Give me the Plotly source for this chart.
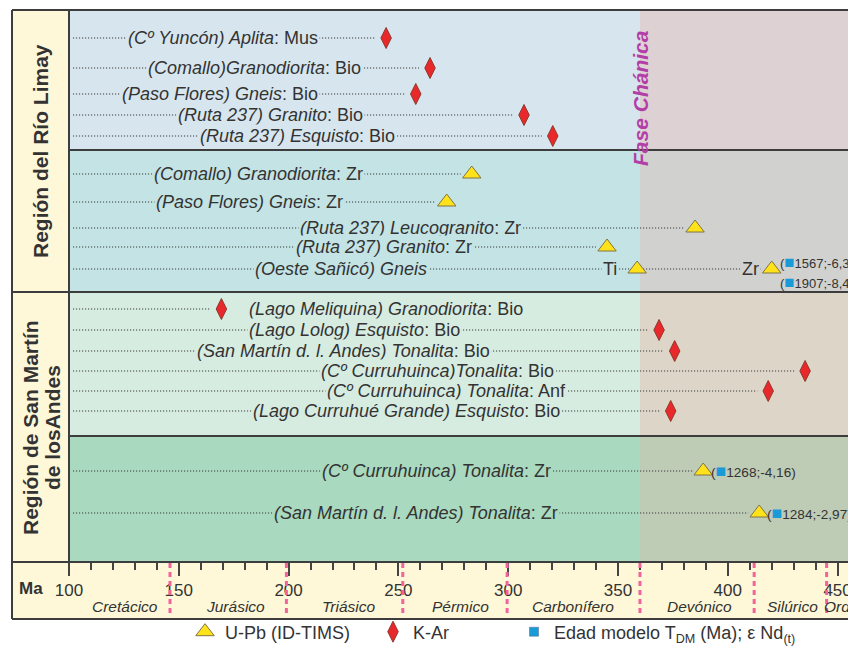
import plotly.graph_objects as go

# ---------------- data ----------------
SAMPLES = [
    "(Cº Yuncón) Aplita", "(Comallo)Granodiorita", "(Paso Flores) Gneis",
    "(Ruta 237) Granito", "(Ruta 237) Esquisto",
    "(Comallo) Granodiorita", "(Paso Flores) Gneis", "(Ruta 237) Leucogranito",
    "(Ruta 237) Granito", "(Oeste Sañicó) Gneis",
    "(Lago Meliquina) Granodiorita", "(Lago Lolog) Esquisto",
    "(San Martín d. l. Andes) Tonalita", "(Cº Curruhuinca)Tonalita",
    "(Cº Curruhuinca) Tonalita", "(Lago Curruhué Grande) Esquisto",
    "(Cº Curruhuinca) Tonalita", "(San Martín d. l. Andes) Tonalita",
]
SAMPLE_MINERAL = ["Mus", "Bio", "Bio", "Bio", "Bio",
                  "Zr", "Zr", "Zr", "Zr", "",
                  "Bio", "Bio", "Bio", "Bio", "Anf", "Bio",
                  "Zr", "Zr"]
GROUP_SIZES = [5, 5, 6, 2]          # rows per band (K-Ar / U-Pb of each region)
REGIONS = ["Región del Río Limay", "Región de San Martín", "de losAndes"]

POINT_ROW = [0, 1, 2, 3, 4, 5, 6, 7, 8, 9, 9, 10, 11, 12, 13, 14, 15, 16, 17]
POINT_MINERAL = ["Mus", "Bio", "Bio", "Bio", "Bio", "Zr", "Zr", "Zr", "Zr", "Ti", "Zr",
                 "Bio", "Bio", "Bio", "Bio", "Anf", "Bio", "Zr", "Zr"]
POINT_METHOD = ["K-Ar"] * 5 + ["U-Pb"] * 6 + ["K-Ar"] * 6 + ["U-Pb"] * 2
POINT_AGE = [244.4, 264.4, 257.9, 307.2, 320.3,
             283.4, 272.0, 385.1, 345.0, 358.7, 420.0,
             169.4, 368.7, 375.8, 435.2, 418.4, 374.0,
             388.8, 414.3]

ND_ROW = [9, 9, 16, 17]
ND_TDM = [1567, 1907, 1268, 1284]
ND_EPS = [-6.37, -8.40, -4.16, -2.97]

PERIODS = ["Cretácico", "Jurásico", "Triásico", "Pérmico", "Carbonífero",
           "Devónico", "Silúrico", "Ordovícico"]
PERIOD_BOUNDS = [146, 199, 252, 299.5, 360, 412, 445]   # as drawn
TICK_VALUES = [100, 150, 200, 250, 300, 350, 400, 450]
FASE_LABEL = "Fase Chánica"
FASE_AGE = 360

# ---------------- layout constants (reference window pixels) ----------------
W, H = 856, 646
BODY = 8                       # default page margin around the plot div
L, T, PB = 69, 10, 562
SCALE = 2.196
X0 = 100
X1 = X0 + (W - L) / SCALE
ROW_Y = [38, 68, 94, 115, 136, 174, 202, 228, 247, 269,
         309, 330, 351, 371, 391, 411, 471, 513]
LABEL_X = [170.0, 184.6, 168.8, 191.9, 204.2, 186.4, 182.3, 255.3, 243.4, 224.0,
           244.4, 229.8, 225.0, 268.0, 272.1, 253.9, 267.3, 257.8]
PERIOD_LABEL_X = [125.4, 175.9, 227.4, 278.4, 329.7, 387.2, 429.3, 443.0]
BAND_Y = [10, 150, 292, 436, 562]
BAND_LEFT = ["#D7E6EE", "#C4E3E4", "#D7ECE1", "#A9D9BF"]
BAND_RIGHT = ["#DDD1D3", "#D1D2D0", "#DDD6C8", "#BECBB5"]
CREAM = "#FEF8D8"
BORDER = "#3D3D3D"
TXT = "#333333"
FONT = "Liberation Sans, Arial, sans-serif"
AXIS_BOTTOM = 619


def px(xp):
    return (xp - L) / (W - L)


def py(yp):
    return (PB - yp) / (PB - T)


def xpaper(age):
    return (age - X0) / (X1 - X0)


band_of_row = []
for b, n in enumerate(GROUP_SIZES):
    band_of_row += [b] * n

shapes = []
for b in range(4):
    shapes.append(dict(type="rect", xref="x", yref="y", x0=X0, x1=FASE_AGE,
                       y0=BAND_Y[b], y1=BAND_Y[b + 1], fillcolor=BAND_LEFT[b],
                       line=dict(width=0), layer="below"))
    shapes.append(dict(type="rect", xref="x", yref="y", x0=FASE_AGE, x1=X1 + 5,
                       y0=BAND_Y[b], y1=BAND_Y[b + 1], fillcolor=BAND_RIGHT[b],
                       line=dict(width=0), layer="below"))
shapes.append(dict(type="rect", xref="paper", yref="paper", x0=px(12), x1=px(L),
                   y0=py(T), y1=py(PB), fillcolor=CREAM, line=dict(width=0), layer="below"))
shapes.append(dict(type="rect", xref="paper", yref="paper", x0=px(12), x1=px(W + 5),
                   y0=py(PB), y1=py(AXIS_BOTTOM), fillcolor=CREAM, line=dict(width=0),
                   layer="below"))

# dotted leader lines
row_end = {}
for r, a in zip(POINT_ROW, POINT_AGE):
    row_end[r] = max(row_end.get(r, 0), a)
for r in range(len(SAMPLES)):
    shapes.append(dict(type="line", xref="x", yref="y", x0=101.8, x1=row_end[r] - 5,
                       y0=ROW_Y[r], y1=ROW_Y[r],
                       line=dict(color="#3A3A3A", width=1.2, dash="1.2px,1.8px"),
                       layer="below"))

for bd in PERIOD_BOUNDS:
    shapes.append(dict(type="line", xref="paper", yref="paper", x0=xpaper(bd), x1=xpaper(bd),
                       y0=py(PB + 1), y1=py(AXIS_BOTTOM - 3),
                       line=dict(color="#F2639E", width=3, dash="5px,4px"), layer="above"))


def hline(y, xa, xb):
    shapes.append(dict(type="line", xref="paper", yref="paper", x0=px(xa), x1=px(xb),
                       y0=py(y), y1=py(y), line=dict(color=BORDER, width=2), layer="above"))


def vline(x, ya, yb):
    shapes.append(dict(type="line", xref="paper", yref="paper", x0=px(x), x1=px(x),
                       y0=py(ya), y1=py(yb), line=dict(color=BORDER, width=2), layer="above"))


hline(T, 12, W + 5)
hline(150, L, W + 5)
hline(292, 12, W + 5)
hline(436, L, W + 5)
hline(PB, 12, W + 5)
hline(AXIS_BOTTOM, 12, W + 5)
vline(12, T, AXIS_BOTTOM)
vline(L, T, PB)

annotations = []
for r, name in enumerate(SAMPLES):
    txt = f"<i>{name}</i>" + (f": {SAMPLE_MINERAL[r]}" if SAMPLE_MINERAL[r] else "")
    annotations.append(dict(x=LABEL_X[r], y=ROW_Y[r], xref="x", yref="y", text=txt,
                            xanchor="center", yanchor="middle",
                            showarrow=False, font=dict(family=FONT, size=18, color=TXT),
                            bgcolor=BAND_LEFT[band_of_row[r]], borderpad=1))
rows_count = {}
for r in POINT_ROW:
    rows_count[r] = rows_count.get(r, 0) + 1
for r, m, a in zip(POINT_ROW, POINT_MINERAL, POINT_AGE):
    if rows_count[r] > 1:
        bg = BAND_LEFT[band_of_row[r]] if a - 12 < FASE_AGE else BAND_RIGHT[band_of_row[r]]
        annotations.append(dict(x=a, y=ROW_Y[r], xref="x", yref="y", text=m,
                                xanchor="right", yanchor="middle",
                                xshift=-18 if a < FASE_AGE else -11,
                                showarrow=False,
                                font=dict(family=FONT, size=18, color=TXT),
                                bgcolor=bg, borderpad=1))

nd_count = {}
for r in ND_ROW:
    nd_count[r] = nd_count.get(r, 0) + 1
nd_seen = {}
for r, t, e in zip(ND_ROW, ND_TDM, ND_EPS):
    k = nd_seen.get(r, 0)
    nd_seen[r] = k + 1
    a = row_end[r]
    if nd_count[r] > 1:
        ys, fs = (-7 if k == 0 else 13), 13
    else:
        ys, fs = 0, 13.6
    etxt = f"{e:.2f}".replace(".", ",")
    sq = f"<span style='color:#1B9AD8;font-size:{fs * 1.3:.1f}px'>■</span>"
    annotations.append(dict(x=a, y=ROW_Y[r], xref="x", yref="y", xanchor="left",
                            yanchor="middle", xshift=6, yshift=-ys, showarrow=False,
                            text=f"({sq}{t};{etxt})",
                            font=dict(family=FONT, size=fs, color=TXT)))

def paper_text(xp, yp, text, size, angle=0, color=TXT):
    annotations.append(dict(x=px(xp), y=py(yp), xref="paper", yref="paper", text=text,
                            xanchor="center", yanchor="middle", textangle=angle,
                            showarrow=False, font=dict(family=FONT, size=size, color=color)))


paper_text(40, 151, f"<b>{REGIONS[0]}</b>", 21, -90)
paper_text(30, 428, f"<b>{REGIONS[1]}</b>", 21, -90)
paper_text(52, 428, f"<b>{REGIONS[2]}</b>", 21, -90)
paper_text(31, 588, "<b>Ma</b>", 17)

annotations.append(dict(x=FASE_AGE, y=98, xref="x", yref="y", text=f"<b><i>{FASE_LABEL}</i></b>",
                        xanchor="center", yanchor="middle",
                        textangle=-90, showarrow=False, font=dict(family=FONT, size=21, color="#B23FA8")))
for i, p in enumerate(PERIODS):
    last = i == len(PERIODS) - 1
    annotations.append(dict(x=PERIOD_LABEL_X[i], y=py(606.5), xref="x", yref="paper",
                            text=f"<i>{p}</i>", showarrow=False,
                            xanchor="left" if last else "center", yanchor="middle",
                            font=dict(family=FONT, size=15.5, color=TXT)))

# ---------------- traces ----------------
fig = go.Figure()
upb_x = [a for a, m in zip(POINT_AGE, POINT_METHOD) if m == "U-Pb"]
upb_y = [ROW_Y[r] for r, m in zip(POINT_ROW, POINT_METHOD) if m == "U-Pb"]
kar_x = [a for a, m in zip(POINT_AGE, POINT_METHOD) if m == "K-Ar"]
kar_y = [ROW_Y[r] for r, m in zip(POINT_ROW, POINT_METHOD) if m == "K-Ar"]

fig.add_trace(go.Scatter(x=upb_x, y=upb_y, mode="markers", name="U-Pb (ID-TIMS)",
                         marker=dict(symbol="triangle-up", size=16, color="#FFE21A",
                                     line=dict(color="#7F7544", width=1)),
                         legendwidth=143, cliponaxis=False))
fig.add_trace(go.Scatter(x=kar_x, y=kar_y, mode="markers", name="K-Ar",
                         marker=dict(symbol="diamond-tall", size=15, color="#E8282B",
                                     line=dict(color="#8E3A2C", width=1)),
                         legendwidth=96, cliponaxis=False))
fig.add_trace(go.Scatter(x=[None], y=[None], mode="markers",
                         name="Edad modelo T<sub>DM</sub> (Ma); ε Nd<sub>(t)</sub>",
                         marker=dict(symbol="square", size=9, color="#1B9AD8",
                                     line=dict(color="#4A6F85", width=0.5))))

FW, FH = W - BODY, H - BODY
fig.update_layout(
    width=FW, height=FH,
    margin=dict(l=L - BODY, r=0, t=T - BODY, b=FH - (PB - BODY), pad=0, autoexpand=False),
    paper_bgcolor="white", plot_bgcolor="rgba(0,0,0,0)",
    font=dict(family=FONT, color=TXT),
    shapes=shapes, annotations=annotations,
    showlegend=True,
    legend=dict(orientation="h", x=px(185), y=py(632), xanchor="left", yanchor="middle",
                font=dict(family=FONT, size=18, color=TXT), bgcolor="rgba(0,0,0,0)",
                itemclick=False),
    xaxis=dict(range=[X0, X1], showgrid=False, zeroline=False, showline=False,
               tickmode="array", tickvals=TICK_VALUES, ticks="outside", ticklen=13,
               tickwidth=1.5, tickcolor="#444", tickfont=dict(family=FONT, size=17, color=TXT),
               minor=dict(dtick=10, tick0=100, ticks="outside", ticklen=7, tickwidth=1.5,
                          tickcolor="#444"),
               fixedrange=True),
    yaxis=dict(range=[PB, T], visible=False, fixedrange=True),
)

fig.write_html("out.html")
